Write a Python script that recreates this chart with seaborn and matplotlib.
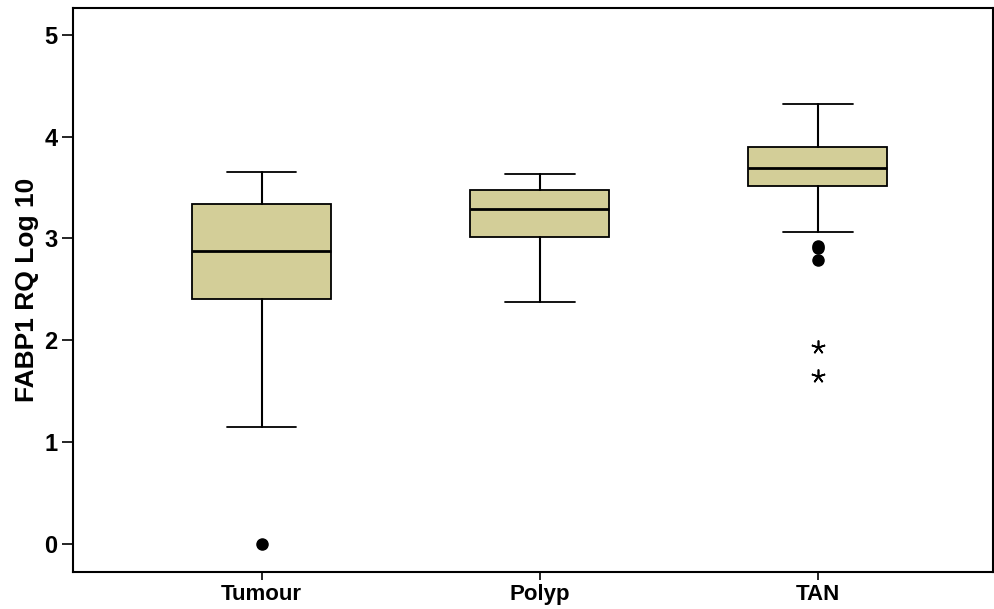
import seaborn as sns
import matplotlib.pyplot as plt

# summary statistics (log10 RQ)
groups = ["Tumour", "Polyp", "TAN"]
whisker_low = [1.15, 2.38, 3.06]
q1 = [2.41, 3.01, 3.52]
median = [2.88, 3.29, 3.69]
q3 = [3.34, 3.48, 3.90]
whisker_high = [3.65, 3.63, 4.32]
outliers = [[0.0], [], [2.93, 2.91, 2.79]]
extremes = [[], [], [1.93, 1.65]]

sns.set_style("ticks", {"text.color": "black", "axes.labelcolor": "black",
                        "xtick.color": "black", "ytick.color": "black",
                        "axes.edgecolor": "black"})
plt.rcParams["font.family"] = ["Liberation Sans", "DejaVu Sans"]
plt.rcParams["font.weight"] = "bold"

fig, ax = plt.subplots(figsize=(9.95, 6.09), dpi=100)
fig.subplots_adjust(left=0.073, right=0.998, top=0.987, bottom=0.061)

stats = []
for i, g in enumerate(groups):
    stats.append({"label": g, "whislo": whisker_low[i], "q1": q1[i], "med": median[i],
                  "q3": q3[i], "whishi": whisker_high[i], "fliers": outliers[i]})

ax.bxp(stats, positions=range(len(groups)), widths=0.5, patch_artist=True,
       boxprops=dict(facecolor="#d3ce98", edgecolor="black", linewidth=1.3),
       medianprops=dict(color="black", linewidth=2),
       whiskerprops=dict(color="black", linewidth=1.5),
       capprops=dict(color="black", linewidth=1.3),
       capwidths=0.25,
       flierprops=dict(marker="o", markerfacecolor="black", markeredgecolor="black", markersize=8))

# extreme values shown as asterisks
for i, ext in enumerate(extremes):
    if ext:
        ax.plot([i] * len(ext), ext, linestyle="none", marker=(5, 2, 0),
                color="black", markersize=10, markeredgewidth=1.2, zorder=3)

ax.set_xlim(-0.68, 2.63)
ax.set_ylim(-0.275, 5.265)
ax.set_yticks(range(6))
ax.set_ylabel("FABP1 RQ Log 10", fontsize=19, fontweight="bold", labelpad=4)
ax.set_xlabel("")
ax.tick_params(axis="y", labelsize=17, width=1.2, length=8, pad=3)
ax.tick_params(axis="x", labelsize=16, width=1.2, length=6, pad=3)
for s in ax.spines.values():
    s.set_linewidth(1.5)
for lab in ax.get_xticklabels() + ax.get_yticklabels():
    lab.set_fontweight("bold")

fig.savefig("out.png", dpi=100)
